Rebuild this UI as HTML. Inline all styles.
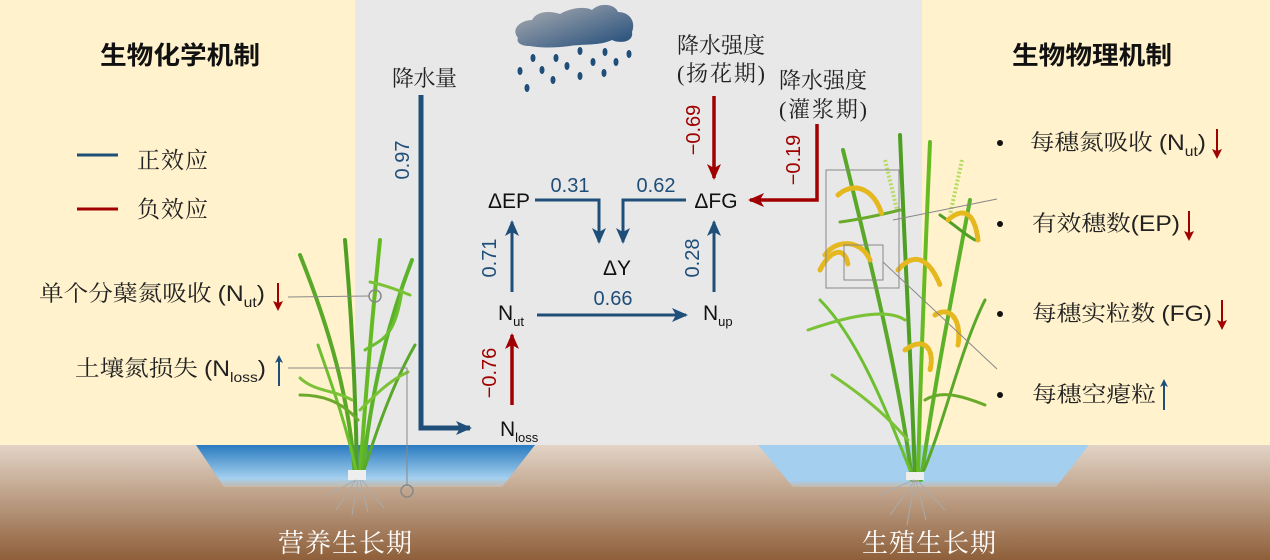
<!DOCTYPE html>
<html><head><meta charset="utf-8"><style>
html,body{margin:0;padding:0;width:1270px;height:560px;overflow:hidden;background:#fff2cc}
svg{display:block}
.s{font-family:"Liberation Serif","Noto Serif CJK SC",serif;}
.a{font-family:"Liberation Sans","Noto Sans CJK SC",sans-serif;}
</style></head><body>
<svg width="1270" height="560" viewBox="0 0 1270 560" xmlns="http://www.w3.org/2000/svg">
<defs>
<linearGradient id="soil" x1="0" y1="0" x2="0" y2="1"><stop offset="0" stop-color="#e2d4c6"/><stop offset="0.5" stop-color="#b99a80"/><stop offset="1" stop-color="#8e5f3a"/></linearGradient>
<linearGradient id="wl" x1="0" y1="0" x2="0" y2="1"><stop offset="0" stop-color="#2a7bc0"/><stop offset="0.8" stop-color="#a4d0ef"/><stop offset="1" stop-color="#c7b8a8"/></linearGradient>
<linearGradient id="wr" x1="0" y1="0" x2="0" y2="1"><stop offset="0" stop-color="#a4cfee"/><stop offset="0.85" stop-color="#a4cfee"/><stop offset="1" stop-color="#c7b8a8"/></linearGradient>
<linearGradient id="cl" x1="0" y1="0" x2="1" y2="1"><stop offset="0" stop-color="#b0b0b4"/><stop offset="1" stop-color="#1e4a78"/></linearGradient>
<marker id="mb" markerWidth="8" markerHeight="8" refX="6" refY="4" orient="auto" markerUnits="userSpaceOnUse"><path d="M0,0 L8,4 L0,8 L2,4z" fill="#1f4e79"/></marker>
<marker id="mbb" markerWidth="16" markerHeight="14" refX="14" refY="7" orient="auto" markerUnits="userSpaceOnUse"><path d="M0,0 L16,7 L0,14 L4,7z" fill="#1f4e79"/></marker>
<marker id="mr" markerWidth="16" markerHeight="14" refX="14" refY="7" orient="auto" markerUnits="userSpaceOnUse"><path d="M0,0 L16,7 L0,14 L4,7z" fill="#a00000"/></marker>
<marker id="mrs" markerWidth="10" markerHeight="10" refX="8" refY="5" orient="auto" markerUnits="userSpaceOnUse"><path d="M0,0 L10,5 L0,10 L2,5z" fill="#a00000"/></marker>
</defs>
<rect x="355" y="0" width="567" height="445" fill="#e8e8e8"/>
<rect x="0" y="445" width="1270" height="115" fill="url(#soil)"/>
<polygon points="196,445 535,445 502,487 224,487" fill="url(#wl)"/>
<polygon points="758,445 1089,445 1056,487 793,487" fill="url(#wr)"/>

<!-- cloud -->
<path d="M518,38 C510,28 522,20 532,20 C536,12 548,10 560,14 C570,8 585,6 592,10 C600,2 615,4 618,12 C630,12 636,22 632,32 C634,42 620,44 612,40 C600,46 580,44 570,46 C555,48 540,48 530,46 C520,46 516,42 518,38z" fill="url(#cl)"/>
<g fill="#1f4e79">
<ellipse cx="520" cy="71" rx="2.5" ry="4"/><ellipse cx="527" cy="88" rx="2.5" ry="4"/><ellipse cx="533" cy="58" rx="2.5" ry="4"/><ellipse cx="542" cy="70" rx="2.5" ry="4"/><ellipse cx="553" cy="80" rx="2.5" ry="4"/><ellipse cx="556" cy="58" rx="2.5" ry="4"/><ellipse cx="567" cy="66" rx="2.5" ry="4"/><ellipse cx="580" cy="51" rx="2.5" ry="4"/><ellipse cx="580" cy="76" rx="2.5" ry="4"/><ellipse cx="593" cy="62" rx="2.5" ry="4"/><ellipse cx="605" cy="52" rx="2.5" ry="4"/><ellipse cx="604" cy="73" rx="2.5" ry="4"/><ellipse cx="616" cy="62" rx="2.5" ry="4"/><ellipse cx="629" cy="54" rx="2.5" ry="4"/>
</g>

<!-- left texts -->
<text x="100" y="64" class="a" font-size="25" font-weight="bold" fill="#111" textLength="160" lengthAdjust="spacingAndGlyphs">生物化学机制</text>
<line x1="77" y1="155" x2="118" y2="155" stroke="#1f4e79" stroke-width="3"/>
<line x1="77" y1="209" x2="118" y2="209" stroke="#a00000" stroke-width="3"/>
<text x="137" y="168" class="s" font-size="23" fill="#222" textLength="71">正效应</text>
<text x="137" y="217" class="s" font-size="23" fill="#222" textLength="71">负效应</text>
<text x="39" y="301" class="s" font-size="22" fill="#222" textLength="226" lengthAdjust="spacingAndGlyphs">单个分蘖氮吸收 <tspan class="a">(N</tspan><tspan class="a" font-size="14" dy="6">ut</tspan><tspan class="a" dy="-6">)</tspan></text>
<line x1="278" y1="283" x2="278" y2="309" stroke="#a00000" stroke-width="2" marker-end="url(#mrs)"/>
<text x="75" y="376" class="s" font-size="22" fill="#222" textLength="191" lengthAdjust="spacingAndGlyphs">土壤氮损失 <tspan class="a">(N</tspan><tspan class="a" font-size="14" dy="6">loss</tspan><tspan class="a" dy="-6">)</tspan></text>
<line x1="279" y1="386" x2="279" y2="357" stroke="#1f4e79" stroke-width="2" marker-end="url(#mb)"/>
<text x="278" y="552" class="s" font-size="26" fill="#fff" textLength="134">营养生长期</text>
<text x="862" y="552" class="s" font-size="26" fill="#fff" textLength="134">生殖生长期</text>

<!-- right texts -->
<text x="1012" y="64" class="a" font-size="25" font-weight="bold" fill="#111" textLength="160" lengthAdjust="spacingAndGlyphs">生物物理机制</text>
<g fill="#111"><circle cx="1000" cy="143" r="3"/><circle cx="1000" cy="224" r="3"/><circle cx="1000" cy="314" r="3"/><circle cx="1000" cy="395" r="3"/></g>
<text x="1030" y="150" class="s" font-size="22" fill="#222" textLength="176" lengthAdjust="spacingAndGlyphs">每穗氮吸收 <tspan class="a">(N</tspan><tspan class="a" font-size="14" dy="6">ut</tspan><tspan class="a" dy="-6">)</tspan></text>
<line x1="1217" y1="129" x2="1217" y2="157" stroke="#a00000" stroke-width="2" marker-end="url(#mrs)"/>
<text x="1032" y="231" class="s" font-size="22" fill="#222" textLength="148" lengthAdjust="spacingAndGlyphs">有效穗数<tspan class="a">(EP)</tspan></text>
<line x1="1189" y1="211" x2="1189" y2="239" stroke="#a00000" stroke-width="2" marker-end="url(#mrs)"/>
<text x="1032" y="321" class="s" font-size="22" fill="#222" textLength="180" lengthAdjust="spacingAndGlyphs">每穗实粒数 <tspan class="a">(FG)</tspan></text>
<line x1="1222" y1="300" x2="1222" y2="328" stroke="#a00000" stroke-width="2" marker-end="url(#mrs)"/>
<text x="1032" y="402" class="s" font-size="22" fill="#222" textLength="124" lengthAdjust="spacingAndGlyphs">每穗空瘪粒</text>
<line x1="1164" y1="410" x2="1164" y2="381" stroke="#1f4e79" stroke-width="2" marker-end="url(#mb)"/>

<!-- left plant -->
<g fill="none" stroke-linecap="round">
<path d="M355,478 C350,400 330,330 300,255" stroke="#5aa82a" stroke-width="4"/>
<path d="M357,478 C356,400 352,320 345,240" stroke="#4f9f24" stroke-width="4"/>
<path d="M360,478 C365,400 372,320 380,240" stroke="#66bb22" stroke-width="4"/>
<path d="M362,478 C370,400 385,330 412,260" stroke="#5cb32a" stroke-width="4"/>
<path d="M356,470 C345,420 330,380 318,345" stroke="#6cbf30" stroke-width="3"/>
<path d="M364,470 C380,420 395,380 415,345" stroke="#5aa82a" stroke-width="3"/>
<path d="M352,400 C335,390 315,392 300,378" stroke="#7cc236" stroke-width="3"/>
<path d="M365,350 C380,340 395,340 402,290" stroke="#6cbf30" stroke-width="3"/>
<path d="M370,282 C385,285 398,290 410,295" stroke="#7cc236" stroke-width="3"/>
<path d="M358,420 C340,400 320,395 300,395" stroke="#6aaa2a" stroke-width="3"/>
<path d="M360,410 C375,395 390,380 408,372" stroke="#7cc236" stroke-width="3"/>
</g>
<rect x="348" y="470" width="18" height="10" fill="#eee"/>
<g stroke="#aaa" stroke-width="1" fill="none"><path d="M356,480 l-20,30 M358,480 l-6,35 M360,480 l8,32 M362,480 l22,28 M356,480 l-28,15"/></g>
<polyline points="288,297 369,296" fill="none" stroke="#888" stroke-width="1"/>
<circle cx="375" cy="296" r="6" fill="none" stroke="#888" stroke-width="1.5"/>
<polyline points="288,368 407,368 407,486" fill="none" stroke="#888" stroke-width="1"/>
<circle cx="407" cy="491" r="6" fill="none" stroke="#888" stroke-width="1.5"/>

<!-- right plant -->
<g fill="none" stroke-linecap="round">
<path d="M912,480 C900,380 870,260 843,150" stroke="#5aa82a" stroke-width="4"/>
<path d="M915,480 C912,380 905,260 900,135" stroke="#4f9f24" stroke-width="4"/>
<path d="M918,480 C920,380 925,260 930,142" stroke="#66bb22" stroke-width="4"/>
<path d="M921,480 C935,380 955,280 970,200" stroke="#5cb32a" stroke-width="4"/>
<path d="M910,470 C890,420 860,340 820,300" stroke="#6cbf30" stroke-width="3"/>
<path d="M924,470 C945,420 960,350 985,300" stroke="#5aa82a" stroke-width="3"/>
<path d="M908,440 C890,420 870,400 832,375" stroke="#7cc236" stroke-width="3"/>
<path d="M925,400 C940,390 960,395 985,405" stroke="#6aaa2a" stroke-width="3"/>
<path d="M905,320 C890,310 860,312 808,330" stroke="#7cc236" stroke-width="3"/>
<path d="M900,210 C880,215 855,220 840,222" stroke="#6aaa2a" stroke-width="3"/>
<path d="M940,215 C955,225 965,235 975,240" stroke="#4f9f24" stroke-width="3"/>
</g>
<g fill="none" stroke="#e6b820" stroke-width="5" stroke-linecap="round" stroke-dasharray="3 2">
<path d="M838,195 C855,180 875,190 882,215"/>
<path d="M825,255 C835,240 860,238 870,260"/>
<path d="M820,270 C830,250 845,245 848,265"/>
<path d="M898,270 C915,250 930,260 940,285"/>
<path d="M905,350 C925,335 935,350 930,370"/>
<path d="M935,315 C950,305 962,320 958,345"/>
<path d="M948,220 C965,205 975,215 978,240"/>
</g>
<g fill="none" stroke="#b5dc60" stroke-width="4" stroke-dasharray="2 2"><path d="M885,160 l12,50"/><path d="M962,160 l-12,55"/></g>
<rect x="826" y="170" width="73" height="118" fill="none" stroke="#888" stroke-width="1"/>
<rect x="844" y="245" width="39" height="35" fill="none" stroke="#888" stroke-width="1"/>
<line x1="893" y1="220" x2="997" y2="199" stroke="#888" stroke-width="1"/>
<line x1="883" y1="262" x2="997" y2="369" stroke="#888" stroke-width="1"/>
<rect x="906" y="472" width="18" height="8" fill="#eee"/>
<g stroke="#aaa" stroke-width="1" fill="none"><path d="M915,480 l-25,35 M915,480 l-8,45 M916,480 l10,40 M917,480 l28,30 M914,480 l-35,15"/></g>

<!-- diagram -->
<text x="392" y="86" class="s" font-size="22" fill="#222" textLength="65">降水量</text>
<polyline points="421,95 421,428 470,428" fill="none" stroke="#1f4e79" stroke-width="5" marker-end="url(#mbb)"/>
<text transform="translate(409,160) rotate(-90)" text-anchor="middle" class="a" font-size="20" fill="#1f4e79">0.97</text>

<text x="677" y="53" class="s" font-size="22" fill="#222" textLength="88">降水强度</text>
<text x="677" y="81" class="s" font-size="22" fill="#222" textLength="88">(扬花期)</text>
<text x="779" y="88" class="s" font-size="22" fill="#222" textLength="88">降水强度</text>
<text x="779" y="117" class="s" font-size="22" fill="#222" textLength="88">(灌浆期)</text>

<g class="a" font-size="21" fill="#111">
<text x="509" y="208" text-anchor="middle">ΔEP</text>
<text x="716" y="208" text-anchor="middle">ΔFG</text>
<text x="617" y="275" text-anchor="middle">ΔY</text>
<text x="498" y="320">N<tspan font-size="13" dy="6">ut</tspan></text>
<text x="703" y="320">N<tspan font-size="13" dy="6">up</tspan></text>
<text x="500" y="436">N<tspan font-size="13" dy="6">loss</tspan></text>
</g>

<g fill="none" stroke="#1f4e79" stroke-width="3">
<polyline points="535,200 599,200 599,242" marker-end="url(#mbb)"/>
<polyline points="686,200 623,200 623,242" marker-end="url(#mbb)"/>
<line x1="512" y1="292" x2="512" y2="222" marker-end="url(#mbb)"/>
<line x1="714" y1="292" x2="714" y2="222" marker-end="url(#mbb)"/>
<line x1="537" y1="315" x2="686" y2="315" marker-end="url(#mbb)"/>
</g>
<g fill="none" stroke="#a00000" stroke-width="3.5">
<line x1="512" y1="405" x2="512" y2="335" marker-end="url(#mr)"/>
<line x1="714" y1="96" x2="714" y2="178" marker-end="url(#mr)"/>
<polyline points="817,124 817,200 750,200" marker-end="url(#mr)"/>
</g>
<g class="a" font-size="20" fill="#1f4e79">
<text x="570" y="192" text-anchor="middle">0.31</text>
<text x="656" y="192" text-anchor="middle">0.62</text>
<text x="613" y="305" text-anchor="middle">0.66</text>
<text transform="translate(496,258) rotate(-90)" text-anchor="middle">0.71</text>
<text transform="translate(699,258) rotate(-90)" text-anchor="middle">0.28</text>
</g>
<g class="a" font-size="20" fill="#a00000">
<text transform="translate(496,373) rotate(-90)" text-anchor="middle">−0.76</text>
<text transform="translate(700,130) rotate(-90)" text-anchor="middle">−0.69</text>
<text transform="translate(800,160) rotate(-90)" text-anchor="middle">−0.19</text>
</g>
</svg>
</body></html>
